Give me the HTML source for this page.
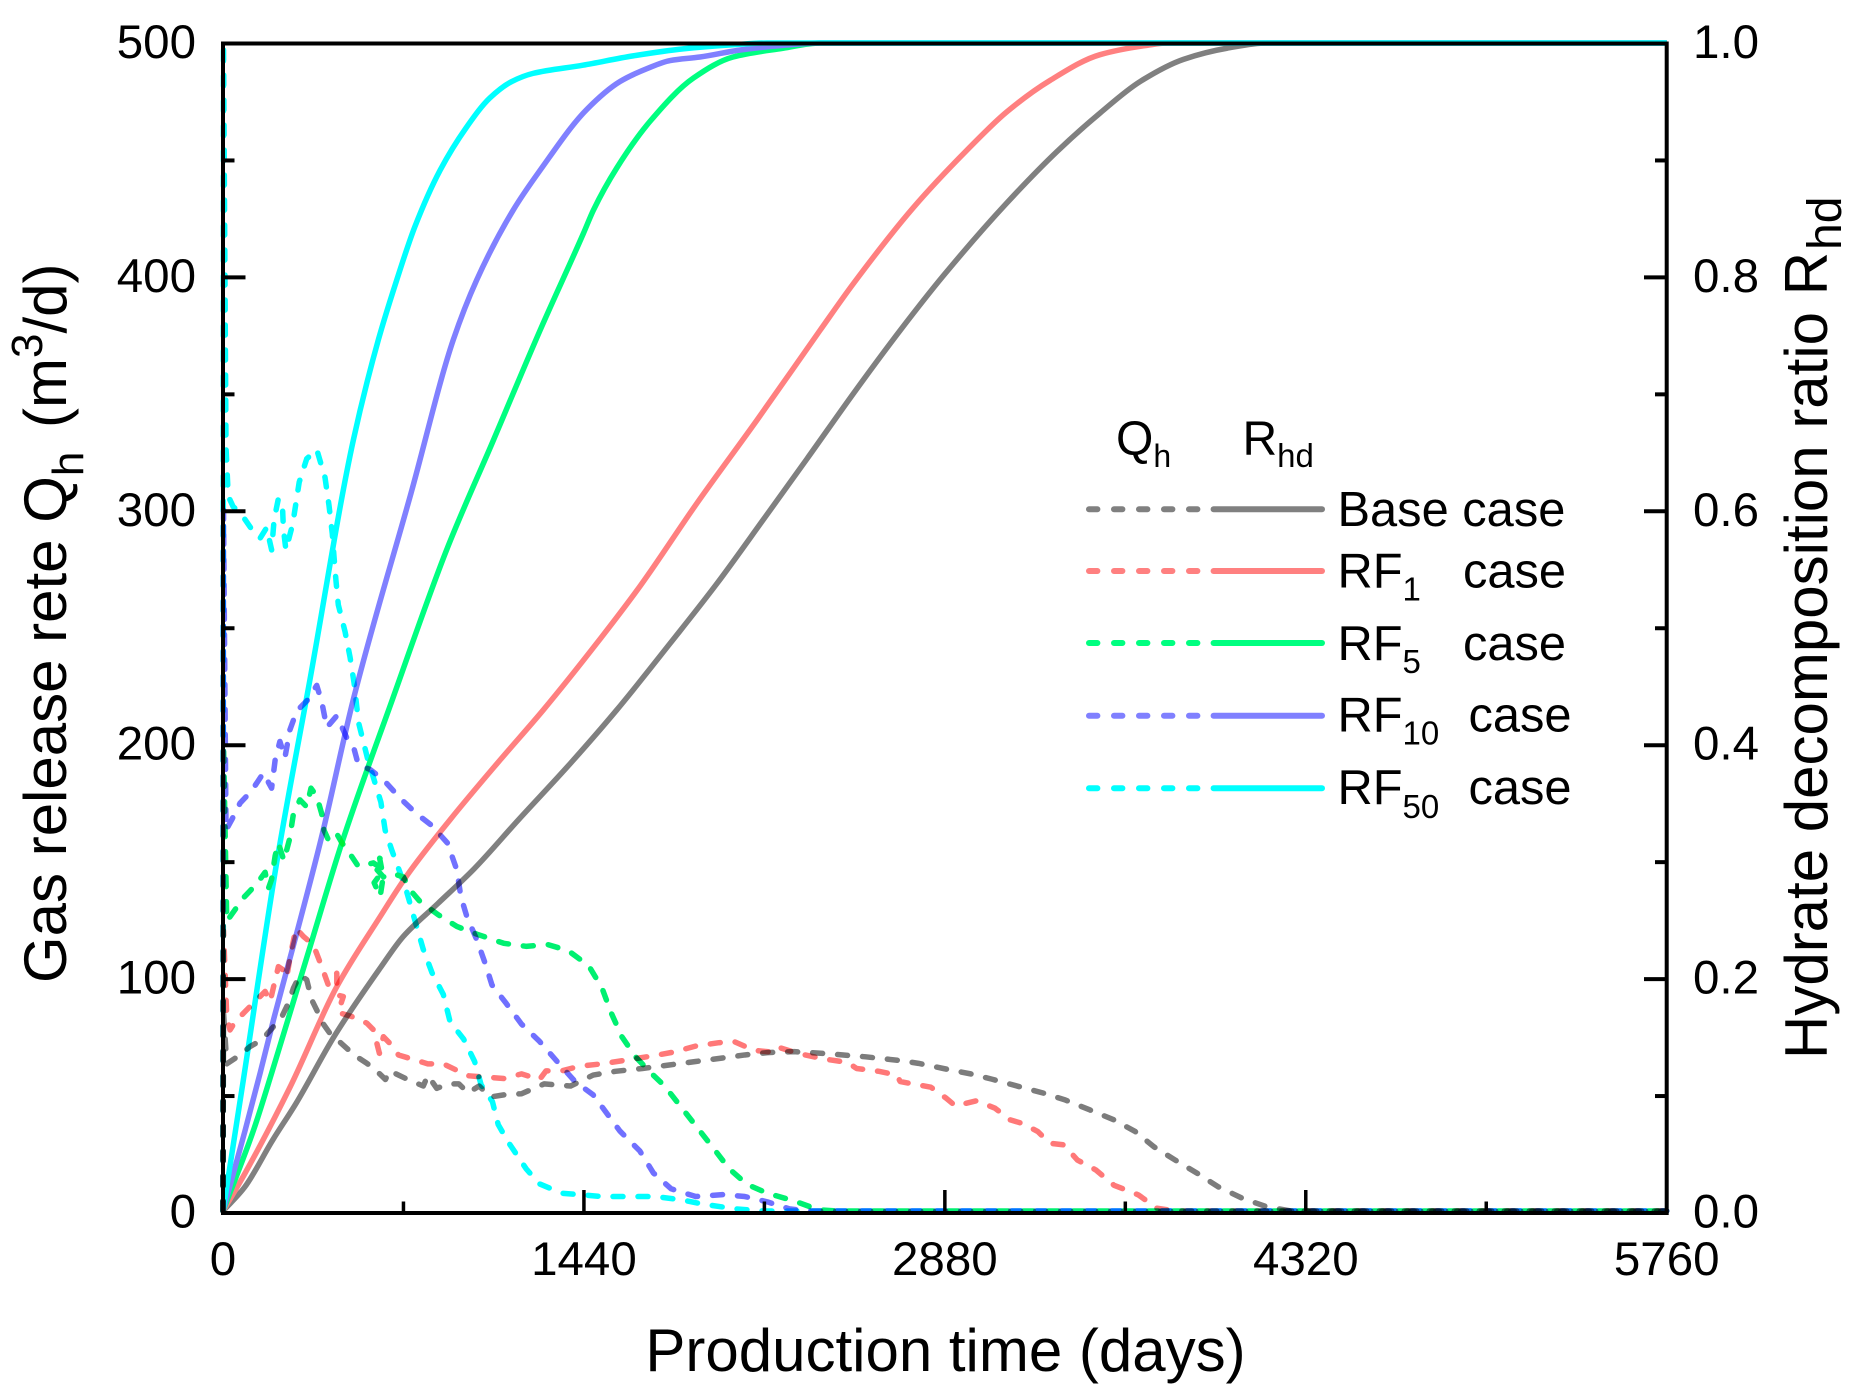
<!DOCTYPE html>
<html lang="en">
<head>
<meta charset="utf-8">
<title>Gas release rate and hydrate decomposition ratio</title>
<style>
  html, body { margin: 0; padding: 0; background: #fff; }
  svg { display: block; }
  text { font-family: "Liberation Sans", Arial, sans-serif; fill: #000; }
</style>
</head>
<body>
<svg id="chart" xmlns="http://www.w3.org/2000/svg" width="1857" height="1398" viewBox="0 0 1857 1398">
  <rect x="0" y="0" width="1857" height="1398" fill="#fff"/>
  <g id="solid-layer"></g>
  <g id="dashed-layer"></g>
  <rect x="223" y="43.5" width="1443.7" height="1169.5" fill="none" stroke="#000" stroke-width="4"/>
  <g id="tick-layer"></g>

  <text x="945.5" y="1371" font-size="60" text-anchor="middle">Production time (days)</text>
  <text transform="translate(66,983) rotate(-90)" font-size="60">Gas release rete Q<tspan font-size="44" dy="17">h</tspan><tspan dy="-17" dx="7"> (m</tspan><tspan font-size="44" dy="-24">3</tspan><tspan dy="24">/d)</tspan></text>
  <text transform="translate(1827,1059) rotate(-90)" font-size="60">Hydrate decomposition ratio R<tspan font-size="48" dy="14" dx="2">hd</tspan></text>

  <g>
    <text x="1116" y="455" font-size="48">Q<tspan font-size="32" dy="12">h</tspan></text>
    <text x="1242.5" y="455" font-size="48">R<tspan font-size="33" dy="12">hd</tspan></text>

    <line x1="1089" x2="1198" y1="509.3" y2="509.3" stroke="#808080" stroke-width="6" stroke-linecap="round" stroke-dasharray="8.4 16.6"/>
    <line x1="1213.6" x2="1322" y1="509.3" y2="509.3" stroke="#808080" stroke-width="6" stroke-linecap="round"/>
    <text x="1337.5" y="526" font-size="48.8">Base case</text>

    <line x1="1089" x2="1198" y1="571" y2="571" stroke="#ff8080" stroke-width="6" stroke-linecap="round" stroke-dasharray="8.4 16.6"/>
    <line x1="1213.6" x2="1322" y1="571" y2="571" stroke="#ff8080" stroke-width="6" stroke-linecap="round"/>
    <text x="1337.5" y="587.3" font-size="48.8">RF<tspan font-size="33" dy="13">1</tspan></text>
    <text x="1463" y="587.3" font-size="48.8">case</text>

    <line x1="1089" x2="1198" y1="643" y2="643" stroke="#00ff80" stroke-width="6" stroke-linecap="round" stroke-dasharray="8.4 16.6"/>
    <line x1="1213.6" x2="1322" y1="643" y2="643" stroke="#00ff80" stroke-width="6" stroke-linecap="round"/>
    <text x="1337.5" y="660" font-size="48.8">RF<tspan font-size="33" dy="13">5</tspan></text>
    <text x="1463" y="660" font-size="48.8">case</text>

    <line x1="1089" x2="1198" y1="715.7" y2="715.7" stroke="#8080ff" stroke-width="6" stroke-linecap="round" stroke-dasharray="8.4 16.6"/>
    <line x1="1213.6" x2="1322" y1="715.7" y2="715.7" stroke="#8080ff" stroke-width="6" stroke-linecap="round"/>
    <text x="1337.5" y="731.7" font-size="48.8">RF<tspan font-size="33" dy="13">10</tspan></text>
    <text x="1468.5" y="731.7" font-size="48.8">case</text>

    <line x1="1089" x2="1198" y1="788.3" y2="788.3" stroke="#00ffff" stroke-width="6" stroke-linecap="round" stroke-dasharray="8.4 16.6"/>
    <line x1="1213.6" x2="1322" y1="788.3" y2="788.3" stroke="#00ffff" stroke-width="6" stroke-linecap="round"/>
    <text x="1337.5" y="804" font-size="48.8">RF<tspan font-size="33" dy="14">50</tspan></text>
    <text x="1468.5" y="804" font-size="48.8">case</text>
  </g>
</svg>

<script>
// ---- Axis ticks ----
const xMajorTicks = [0, 1440, 2880, 4320, 5760];
const xMinorTicks = [720, 2160, 3600, 5040];
const leftMajorTicks = [0, 100, 200, 300, 400, 500];
const leftMinorTicks = [50, 150, 250, 350, 450];
const rightMajorTicks = [0, 0.2, 0.4, 0.6, 0.8, 1.0];
const rightMinorTicks = [0.1, 0.3, 0.5, 0.7, 0.9];

// ---- Hydrate decomposition ratio R_hd (solid) ----
const rBaseDays = [0, 85, 199, 291, 445, 627, 719, 856, 1002, 1179, 1385, 1571, 1784, 1970, 2156, 2330, 2529, 2702, 2875, 3127, 3327, 3499, 3659, 3832, 4005, 4164, 5760];
const rBaseValues = [0, 0.02, 0.061, 0.092, 0.15, 0.208, 0.235, 0.263, 0.293, 0.335, 0.383, 0.429, 0.486, 0.537, 0.592, 0.644, 0.704, 0.754, 0.801, 0.863, 0.907, 0.94, 0.967, 0.986, 0.9955, 1, 1];
const rRf1Days = [0, 87, 265, 454, 624, 733, 906, 1105, 1278, 1491, 1664, 1891, 2130, 2382, 2515, 2754, 2967, 3127, 3300, 3499, 3686, 3767, 5760];
const rRf1Values = [0, 0.032, 0.105, 0.192, 0.251, 0.287, 0.335, 0.386, 0.429, 0.486, 0.535, 0.606, 0.677, 0.754, 0.794, 0.859, 0.908, 0.941, 0.968, 0.99, 0.998, 1, 1];
const rRf5Days = [0, 123, 194, 265, 347, 474, 676, 894, 1079, 1265, 1438, 1478, 1571, 1704, 1877, 2035, 2234, 2382, 5760];
const rRf5Values = [0, 0.07, 0.118, 0.168, 0.226, 0.315, 0.438, 0.567, 0.66, 0.754, 0.837, 0.857, 0.893, 0.933, 0.97, 0.988, 0.9955, 1, 1];
const rRf10Days = [0, 87, 148, 203, 293, 392, 520, 752, 919, 1012, 1158, 1265, 1451, 1584, 1691, 1784, 1903, 2063, 2234, 2382, 5760];
const rRf10Values = [0, 0.068, 0.118, 0.165, 0.237, 0.319, 0.438, 0.616, 0.746, 0.797, 0.857, 0.891, 0.943, 0.967, 0.978, 0.985, 0.988, 0.994, 0.998, 1, 1];
const rRf50Days = [0, 81, 214, 347, 520, 620, 693, 766, 866, 972, 1065, 1152, 1237, 1436, 1636, 1835, 2035, 2171, 5760];
const rRf50Values = [0, 0.112, 0.298, 0.455, 0.66, 0.746, 0.797, 0.843, 0.891, 0.928, 0.953, 0.967, 0.974, 0.981, 0.989, 0.995, 0.9985, 1, 1];

// ---- Gas release rate Q_h (dashed) ----
const qBaseDays = [0, 2, 15, 68, 108, 154, 194, 234, 261, 281, 307, 334, 354, 380, 394, 427, 480, 523, 574, 603, 648, 665, 737, 799, 817, 853, 897, 941, 978, 1022, 1067, 1120, 1191, 1281, 1387, 1477, 1566, 1673, 1780, 1886, 1993, 2082, 2172, 2279, 2403, 2564, 2702, 2775, 2874, 2983, 3069, 3178, 3276, 3361, 3458, 3555, 3640, 3714, 3799, 3889, 3970, 4068, 4165, 4262, 5760];
const qBaseValues = [0, 85, 63, 66.8, 70.4, 73.2, 78, 83, 89, 95.4, 101, 99, 90.4, 84.7, 81, 76, 71, 66.8, 63.2, 61, 56.3, 60, 56.3, 53.5, 58, 52.5, 54.4, 54.4, 50.6, 53.5, 48.8, 49.7, 50.2, 54.4, 53.5, 58.2, 59.8, 61, 62.5, 64, 65.5, 66.8, 67.8, 68.2, 67.4, 66, 64.4, 63.2, 61, 58.7, 56.4, 53.2, 50.4, 47.5, 43.3, 39, 34, 27.5, 21.8, 16, 10.4, 5.4, 1.8, 0, 0];
const qRf1Days = [0, 2, 15, 28, 48, 101, 168, 188, 205, 221, 243, 254, 270, 291, 321, 360, 394, 420, 454, 454, 480, 459, 527, 574, 600, 624, 640, 673, 700, 817, 879, 978, 1120, 1191, 1263, 1289, 1352, 1423, 1512, 1597, 1708, 1797, 1886, 1975, 2038, 2118, 2207, 2225, 2296, 2403, 2492, 2528, 2617, 2688, 2702, 2824, 2885, 2922, 3007, 3080, 3141, 3189, 3251, 3299, 3355, 3409, 3482, 3555, 3652, 3726, 3799, 5760];
const qRf1Values = [0, 120, 83, 77.5, 81, 86.8, 94, 89.6, 97.5, 104.6, 103, 100, 110, 121, 117.5, 114, 104.6, 96.8, 101.8, 92.5, 91.8, 85, 82.8, 80.4, 77.6, 67.5, 74.6, 71, 66.8, 63, 63, 57.9, 56.7, 58.7, 56.3, 60, 60, 62, 63, 64.4, 66.3, 68, 70.6, 72, 72.6, 68.8, 67.8, 69.8, 67.4, 65, 63.6, 61, 59.8, 58.2, 55.4, 53, 48.3, 45, 47.2, 44, 39, 37.5, 34, 29, 28.3, 21.8, 17.6, 11, 6.9, 1.2, 0, 0];
const qRf5Days = [0, 2, 15, 48, 81, 134, 168, 181, 194, 208, 221, 243, 265, 281, 307, 334, 351, 374, 394, 403, 420, 451, 474, 514, 540, 600, 640, 603, 627, 639, 625, 640, 615, 640, 673, 720, 746, 786, 859, 933, 1013, 1120, 1209, 1298, 1378, 1459, 1512, 1548, 1592, 1646, 1699, 1762, 1824, 1895, 1958, 2020, 2091, 2172, 2279, 2376, 2455, 5760];
const qRf5Values = [0, 200, 124, 129, 134, 140, 145, 138, 142, 152, 157.5, 150, 159, 170, 176, 173, 181, 177.5, 170, 163, 159, 162, 157.7, 151.7, 147.5, 149, 146, 140.5, 134.6, 143, 151, 150, 146, 143, 144.6, 143, 137.5, 132.5, 126.8, 121.8, 118.5, 114.6, 113.3, 114, 111.4, 105, 95.5, 85, 74.5, 66, 60, 53.5, 45, 35.3, 26.7, 18, 11.4, 7.6, 4.3, 0.5, 0, 0];
const qRf10Days = [0, 2, 12, 35, 68, 115, 161, 194, 208, 227, 247, 267, 294, 340, 374, 394, 414, 454, 494, 520, 540, 587, 640, 707, 773, 833, 895, 933, 949, 973, 1013, 1046, 1073, 1129, 1191, 1263, 1333, 1405, 1477, 1530, 1583, 1663, 1717, 1788, 1886, 1993, 2082, 2172, 2260, 2331, 5760];
const qRf10Values = [0, 300, 163, 167.5, 174.6, 180, 187.5, 181, 193, 201, 194, 206, 214, 219, 225, 218, 207, 212, 202.5, 199, 191, 189, 184.6, 176.7, 170, 165, 157.6, 146, 134.6, 126, 116, 106, 96.8, 89, 80, 72.6, 64, 55.4, 49.7, 42, 34.3, 25.7, 16.3, 9.5, 6.2, 7, 6.2, 3.9, 0.9, 0, 0];
const qRf50Days = [0, 2, 12, 21, 40, 75, 120, 148, 174, 194, 204, 221, 238, 241, 251, 278, 291, 304, 334, 374, 407, 423, 436, 443, 451, 460, 487, 507, 523, 541, 576, 630, 647, 675, 728, 764, 799, 834, 879, 906, 960, 1004, 1030, 1075, 1098, 1138, 1210, 1263, 1352, 1512, 1726, 1833, 1922, 2047, 2154, 5760];
const qRf50Values = [0, 500, 327, 306, 301.6, 298, 291, 288, 292.5, 283, 296, 305, 300, 292, 283, 294, 303, 312, 322, 326, 314, 302, 290, 280, 269.5, 259.5, 248, 237, 226, 209, 194, 175, 163, 154, 138.5, 125, 112, 102, 92.7, 81, 73.6, 64, 54, 46.8, 37, 29.5, 18, 11.6, 7.6, 6.2, 6.2, 4.7, 2.8, 0.9, 0, 0];

// ---- Axis functions ----
const SVG_NS = 'http://www.w3.org/2000/svg';
function xScale(day) { return 223 + day * (1443.7 / 5760); }
function qScale(q) { return 1211 - q * (1168 / 500); }
function rScale(r) { return 1211 - r * 1168; }
function tickY(q) { return 1213 - q * (1169.5 / 500); }

// Monotone cubic through the points: no loops or overshoot at the plateau.
function smoothPath(px) {
  const n = px.length;
  const secant = [];
  for (let i = 0; i < n - 1; i++) {
    secant.push((px[i + 1][1] - px[i][1]) / (px[i + 1][0] - px[i][0]));
  }
  const slope = [secant[0]];
  for (let i = 1; i < n - 1; i++) {
    const a = secant[i - 1];
    const b = secant[i];
    if (a * b <= 0) {
      slope.push(0);
    } else {
      const h0 = px[i][0] - px[i - 1][0];
      const h1 = px[i + 1][0] - px[i][0];
      const w1 = 2 * h1 + h0;
      const w2 = h1 + 2 * h0;
      slope.push((w1 + w2) / (w1 / a + w2 / b));
    }
  }
  slope.push(secant[n - 2]);
  let d = 'M' + px[0][0].toFixed(2) + ' ' + px[0][1].toFixed(2);
  for (let i = 0; i < n - 1; i++) {
    const h = (px[i + 1][0] - px[i][0]) / 3;
    d += 'C' + (px[i][0] + h).toFixed(2) + ' ' + (px[i][1] + slope[i] * h).toFixed(2) + ' ' +
      (px[i + 1][0] - h).toFixed(2) + ' ' + (px[i + 1][1] - slope[i + 1] * h).toFixed(2) + ' ' +
      px[i + 1][0].toFixed(2) + ' ' + px[i + 1][1].toFixed(2);
  }
  return d;
}

function straightPath(px) {
  return 'M' + px.map(function (p) { return p[0].toFixed(2) + ' ' + p[1].toFixed(2); }).join('L');
}

function drawSolid(days, values, color, name) {
  const px = days.map(function (d, i) { return [xScale(d), rScale(values[i])]; });
  const el = document.createElementNS(SVG_NS, 'path');
  el.setAttribute('d', smoothPath(px));
  el.setAttribute('fill', 'none');
  el.setAttribute('stroke', color);
  el.setAttribute('stroke-width', '5.5');
  el.setAttribute('stroke-linejoin', 'round');
  
  
  document.getElementById('solid-layer').appendChild(el);
}

function drawDashed(days, values, color, name) {
  const px = days.map(function (d, i) { return [xScale(d), qScale(values[i])]; });
  const el = document.createElementNS(SVG_NS, 'path');
  el.setAttribute('d', straightPath(px));
  el.setAttribute('fill', 'none');
  el.setAttribute('stroke', color);
  el.setAttribute('stroke-width', '5.5');
  el.setAttribute('stroke-linejoin', 'round');
  el.setAttribute('stroke-linecap', 'round');
  el.setAttribute('stroke-dasharray', '10 15');
  el.setAttribute('style', 'mix-blend-mode:multiply');
  
  
  document.getElementById('dashed-layer').appendChild(el);
}

function drawTick(x1, y1, x2, y2, width, name) {
  const el = document.createElementNS(SVG_NS, 'line');
  el.setAttribute('x1', x1);
  el.setAttribute('y1', y1);
  el.setAttribute('x2', x2);
  el.setAttribute('y2', y2);
  el.setAttribute('stroke', '#000');
  el.setAttribute('stroke-width', width);
  
  
  document.getElementById('tick-layer').appendChild(el);
}

function drawLabel(x, y, str, anchor, name) {
  const el = document.createElementNS(SVG_NS, 'text');
  el.setAttribute('x', x);
  el.setAttribute('y', y);
  el.setAttribute('font-size', '47.5');
  el.setAttribute('text-anchor', anchor);
  
  
  el.textContent = str;
  document.getElementById('tick-layer').appendChild(el);
}

// ---- Series ----
drawSolid(rBaseDays, rBaseValues, '#808080', 'rhd-line-base-case');
drawSolid(rRf1Days, rRf1Values, '#ff8080', 'rhd-line-rf1');
drawSolid(rRf5Days, rRf5Values, '#00ff80', 'rhd-line-rf5');
drawSolid(rRf10Days, rRf10Values, '#8080ff', 'rhd-line-rf10');
drawSolid(rRf50Days, rRf50Values, '#00ffff', 'rhd-line-rf50');

drawDashed(qBaseDays, qBaseValues, '#7c7c7c', 'qh-line-base-case');
drawDashed(qRf1Days, qRf1Values, '#ff7878', 'qh-line-rf1');
drawDashed(qRf5Days, qRf5Values, '#00f070', 'qh-line-rf5');
drawDashed(qRf10Days, qRf10Values, '#7070ff', 'qh-line-rf10');
drawDashed(qRf50Days, qRf50Values, '#00ffff', 'qh-line-rf50');

// ---- Ticks and labels ----
xMajorTicks.forEach(function (v) {
  const x = xScale(v);
  if (v > 0 && v < 5760) drawTick(x, 1213, x, 1190, 3.5, 'x-major-tick');
  drawLabel(x, 1275, String(v), 'middle', 'x-tick-label');
});
xMinorTicks.forEach(function (v) {
  const x = xScale(v);
  drawTick(x, 1213, x, 1201.5, 3.5, 'x-minor-tick');
});
leftMajorTicks.forEach(function (v) {
  const y = tickY(v);
  if (v > 0 && v < 500) drawTick(223, y, 245.5, y, 4, 'left-major-tick');
  drawLabel(196, y + 14.5, String(v), 'end', 'left-tick-label');
});
leftMinorTicks.forEach(function (v) {
  const y = tickY(v);
  drawTick(223, y, 234.5, y, 4, 'left-minor-tick');
});
rightMajorTicks.forEach(function (v) {
  const y = tickY(v * 500);
  if (v > 0 && v < 1) drawTick(1666.7, y, 1644, y, 4, 'right-major-tick');
  drawLabel(1693, y + 14.5, v.toFixed(1), 'start', 'right-tick-label');
});
rightMinorTicks.forEach(function (v) {
  const y = tickY(v * 500);
  drawTick(1666.7, y, 1655, y, 4, 'right-minor-tick');
});
</script>
</body>
</html>
